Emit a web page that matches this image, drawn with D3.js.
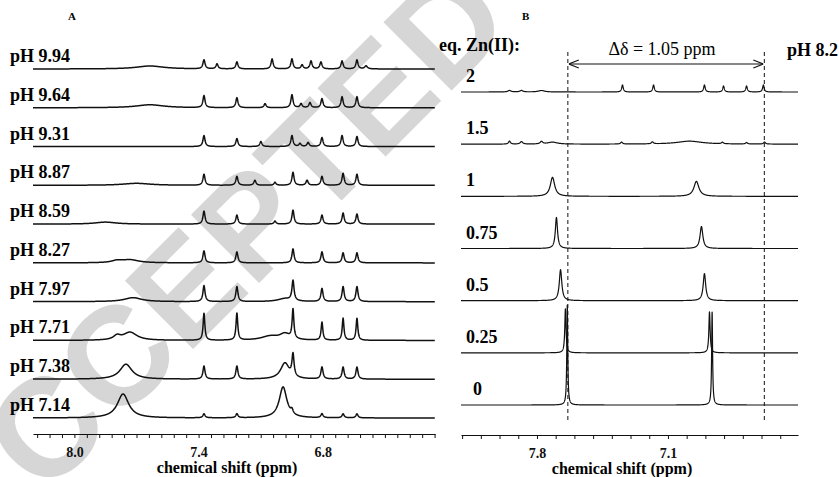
<!DOCTYPE html>
<html>
<head>
<meta charset="utf-8">
<script src="https://cdn.jsdelivr.net/npm/d3@7"></script>
<style>
body { margin: 0; background: #fff; }
svg { display: block; font-family: "Liberation Serif", "Times New Roman", serif; }
</style>
</head>
<body>
<svg id="chart" width="839" height="477"></svg>
<script>
// ---- data ----
// panel A: spectra at different pH, top to bottom
var phLabels = ["pH 9.94", "pH 9.64", "pH 9.31", "pH 8.87", "pH 8.59",
                "pH 8.27", "pH 7.97", "pH 7.71", "pH 7.38", "pH 7.14"];

// peaks: [shift (ppm), intensity, half width (ppm)]
var phPeaks = [
    [[7.635, 3, 0.08], [7.374, 9, 0.006], [7.311, 5, 0.006], [7.215, 7, 0.006], [7.045, 10, 0.006],
     [6.949, 10, 0.006], [6.900, 4, 0.006], [6.857, 8, 0.006], [6.809, 7, 0.006], [6.707, 8, 0.006],
     [6.635, 9, 0.006], [6.591, 3, 0.008]],
    [[7.635, 3, 0.08], [7.374, 12, 0.006], [7.215, 10, 0.006], [7.079, 4, 0.006], [6.949, 13, 0.006],
     [6.905, 4, 0.006], [6.862, 5, 0.006], [6.804, 9, 0.006], [6.707, 11, 0.006], [6.635, 11, 0.006]],
    [[7.374, 11, 0.006], [7.215, 8, 0.006], [7.099, 5, 0.006], [6.949, 11, 0.006], [6.910, 3, 0.006],
     [6.871, 4, 0.006], [6.804, 9, 0.006], [6.707, 11, 0.006], [6.635, 10, 0.006]],
    [[7.70, 2, 0.08], [7.374, 11, 0.006], [7.215, 9, 0.006], [7.128, 5, 0.006], [7.031, 3, 0.006],
     [6.944, 13, 0.006], [6.876, 5, 0.006], [6.804, 9, 0.006], [6.702, 12, 0.006], [6.635, 11, 0.006]],
    [[7.85, 2, 0.06], [7.374, 13, 0.006], [7.215, 9, 0.006], [7.031, 3, 0.006], [6.944, 14, 0.006],
     [6.804, 9, 0.006], [6.702, 11, 0.006], [6.635, 10, 0.006]],
    [[7.794, 2, 0.03], [7.731, 3, 0.05], [7.374, 12, 0.006], [7.215, 11, 0.006], [6.944, 14, 0.006],
     [6.804, 11, 0.006], [6.702, 10, 0.006], [6.635, 10, 0.006]],
    [[7.717, 4, 0.05], [7.374, 16, 0.006], [7.215, 15, 0.006], [6.983, 3, 0.04], [6.944, 20, 0.006],
     [6.804, 13, 0.006], [6.702, 15, 0.006], [6.635, 15, 0.006]],
    [[7.794, 4, 0.02], [7.731, 8, 0.04], [7.374, 27, 0.005], [7.215, 27, 0.005], [7.055, 4, 0.05],
     [6.983, 6, 0.03], [6.944, 29, 0.005], [6.804, 18, 0.005], [6.702, 22, 0.005], [6.635, 22, 0.005]],
    [[7.751, 15, 0.035], [7.374, 13, 0.006], [7.215, 13, 0.006], [6.983, 16, 0.025], [6.944, 22, 0.006],
     [6.804, 12, 0.006], [6.702, 12, 0.006], [6.635, 12, 0.006]],
    [[7.765, 24, 0.033], [6.992, 31, 0.022], [7.374, 4, 0.006], [7.215, 4, 0.006], [6.949, 4, 0.006],
     [6.804, 4, 0.006], [6.702, 4, 0.006], [6.635, 4, 0.006]]
];

// panel B: spectra at pH 8.2 with increasing eq. of Zn(II), top to bottom
var znLabels = ["2", "1.5", "1", "0.75", "0.5", "0.25", "0"];
var znPeaks = [
    [[7.947, 1.5, 0.01], [7.883, 1.5, 0.01], [7.776, 1.5, 0.02], [7.343, 7, 0.005], [7.177, 7, 0.005],
     [6.905, 7, 0.005], [6.803, 6, 0.005], [6.68, 6, 0.005], [6.59, 7, 0.005]],
    [[7.947, 3, 0.006], [7.883, 2.5, 0.008], [7.776, 2.5, 0.008], [7.717, 2, 0.03], [7.348, 2, 0.006],
     [7.183, 2, 0.006], [6.985, 3, 0.08], [6.809, 1.5, 0.006], [6.68, 1.5, 0.006], [6.584, 2, 0.006]],
    [[7.717, 19, 0.014], [6.948, 15, 0.016]],
    [[7.696, 31, 0.007], [6.921, 22, 0.009]],
    [[7.674, 31, 0.008], [6.905, 27, 0.008]],
    [[7.648, 44, 0.004], [6.878, 41, 0.004]],
    [[7.638, 100, 0.003], [6.864, 93, 0.003]]
];

var markShifts = [7.635, 6.585];   // dashed guides, delta = 1.05 ppm
var ticksA = [8.0, 7.4, 6.8];
var ticksB = [7.8, 7.1];

// ---- layout ----
var svg = d3.select("#chart");

var xA = d3.scaleLinear().domain([8.2, 6.258]).range([33, 435]);
var yA = d3.scalePoint().domain(phLabels).range([69, 418]);
var xB = d3.scaleLinear().domain([8.206, 6.405]).range([461, 798]);
var yB = d3.scalePoint().domain(znLabels).range([92, 405]);
var amp = d3.scaleLinear().domain([0, 100]).range([0, 100]);

// watermark
svg.append("text")
    .attr("transform", "translate(-28,570) rotate(-45)")
    .attr("font-family", "Liberation Sans, Arial, sans-serif")
    .attr("font-weight", "bold")
    .attr("font-size", 140)
    .attr("fill", "#d6d6d6")
    .text("ACCEPTED");

function spectrum(peaks, x, step) {
    var d = x.domain();
    var lo = Math.min(d[0], d[1]), hi = Math.max(d[0], d[1]);
    var pts = [];
    for (var s = hi; s >= lo; s -= step) {
        var v = 0;
        peaks.forEach(function (p) {
            var u = (s - p[0]) / p[2];
            v += p[1] / (1 + u * u);
        });
        pts.push([s, v]);
    }
    return pts;
}

function drawPanel(labels, peaks, x, y, step, width) {
    var g = svg.append("g");
    labels.forEach(function (lab, i) {
        var line = d3.line()
            .x(function (d) { return x(d[0]); })
            .y(function (d) { return y(lab) - amp(d[1]); });
        g.append("path")
            .attr("d", line(spectrum(peaks[i], x, step)))
            .attr("fill", "none")
            .attr("stroke", "#111")
            .attr("stroke-width", width)
            .attr("stroke-linejoin", "round");
    });
    return g;
}

drawPanel(phLabels, phPeaks, xA, yA, 0.001, 1.5);
drawPanel(znLabels, znPeaks, xB, yB, 0.0005, 1.2);

// trace labels
svg.append("g").selectAll("text")
    .data(phLabels).enter()
    .append("text")
    .attr("x", 10)
    .attr("y", function (d) { return yA(d) - 7; })
    .attr("font-size", 18)
    .attr("font-weight", "bold")
    .text(function (d) { return d; });

svg.append("g").selectAll("text")
    .data(znLabels).enter()
    .append("text")
    .attr("x", function (d) { return d === "0" ? 473 : 466; })
    .attr("y", function (d) { return yB(d) - 10; })
    .attr("font-size", 18)
    .attr("font-weight", "bold")
    .text(function (d) { return d; });

// panel letters and headers
svg.append("text").attr("x", 68).attr("y", 20).attr("font-size", 11).attr("font-weight", "bold").text("A");
svg.append("text").attr("x", 522).attr("y", 20).attr("font-size", 11).attr("font-weight", "bold").text("B");
svg.append("text").attr("x", 439).attr("y", 51).attr("font-size", 18).attr("font-weight", "bold").text("eq. Zn(II):");
svg.append("text").attr("x", 787).attr("y", 56).attr("font-size", 18).attr("font-weight", "bold").text("pH 8.2");
svg.append("text").attr("x", 662).attr("y", 55).attr("font-size", 18)
    .attr("text-anchor", "middle").text("\u0394\u03b4 = 1.05 ppm");

// dashed guides and arrow
svg.append("g").selectAll("line")
    .data(markShifts).enter()
    .append("line")
    .attr("x1", function (d) { return xB(d); })
    .attr("x2", function (d) { return xB(d); })
    .attr("y1", 52).attr("y2", 422)
    .attr("stroke", "#111")
    .attr("stroke-width", 1)
    .attr("stroke-dasharray", "4,3");

var defs = svg.append("defs");
defs.append("marker")
    .attr("id", "head")
    .attr("viewBox", "0 -5 10 10")
    .attr("refX", 10).attr("refY", 0)
    .attr("markerWidth", 10).attr("markerHeight", 10)
    .attr("markerUnits", "userSpaceOnUse")
    .attr("orient", "auto-start-reverse")
    .append("path")
    .attr("d", "M0,-4L10,0L0,4")
    .attr("fill", "none")
    .attr("stroke", "#111")
    .attr("stroke-width", 1.2);

svg.append("line")
    .attr("x1", xB(markShifts[0]) + 1).attr("x2", xB(markShifts[1]) - 1)
    .attr("y1", 64).attr("y2", 64)
    .attr("stroke", "#111").attr("stroke-width", 1.2)
    .attr("marker-start", "url(#head)")
    .attr("marker-end", "url(#head)");

// axes
function minorTicks(majors, step, x) {
    var d = x.domain();
    var lo = Math.min(d[0], d[1]), hi = Math.max(d[0], d[1]);
    var out = [];
    for (var k = -40; k <= 40; k++) {
        var v = +(majors[0] - k * step).toFixed(3);
        if (v >= lo - 1e-6 && v <= hi + 1e-6) out.push(v);
    }
    return out;
}

function drawAxis(x, majors, step, yPos, title, titleX) {
    var axis = d3.axisBottom(x)
        .tickValues(minorTicks(majors, step, x))
        .tickSize(4)
        .tickSizeOuter(0)
        .tickPadding(9)
        .tickFormat(function (d) {
            return majors.some(function (m) { return Math.abs(m - d) < 1e-6; }) ? d3.format(".1f")(d) : "";
        });
    var g = svg.append("g")
        .attr("transform", "translate(0," + yPos + ")")
        .call(axis);
    g.select(".domain").attr("stroke", "#111").attr("stroke-width", 1.2);
    g.selectAll(".tick line").attr("stroke", "#111");
    g.selectAll(".tick text")
        .attr("font-family", "Liberation Serif, Times New Roman, serif")
        .attr("font-size", 14)
        .attr("font-weight", "bold")
        .attr("fill", "#111");
    svg.append("text")
        .attr("x", titleX).attr("y", yPos + 39)
        .attr("text-anchor", "middle")
        .attr("font-size", 16)
        .attr("font-weight", "bold")
        .text(title);
}

drawAxis(xA, ticksA, 0.06, 434, "chemical shift (ppm)", 227);
drawAxis(xB, ticksB, 0.1, 435, "chemical shift (ppm)", 622);
</script>
</body>
</html>
